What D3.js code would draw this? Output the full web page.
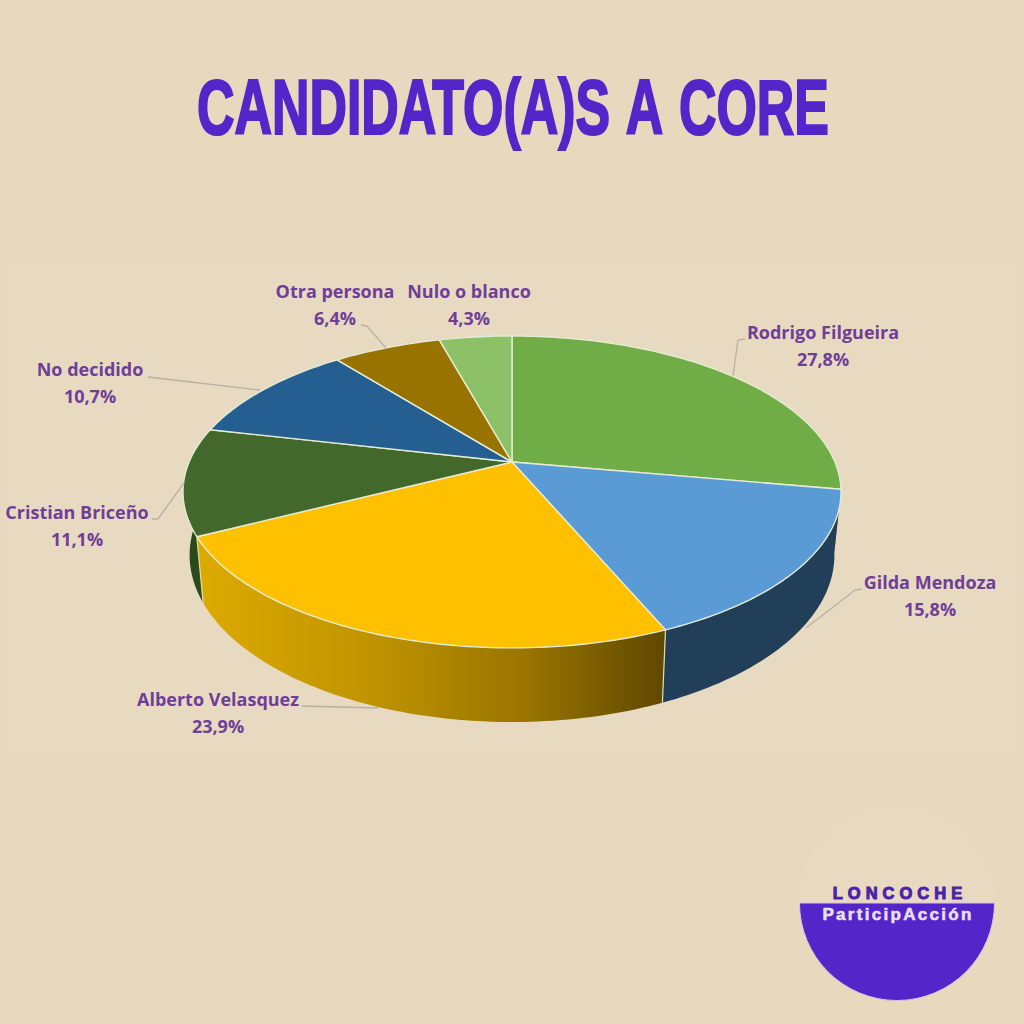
<!DOCTYPE html>
<html>
<head>
<meta charset="utf-8">
<script src="https://cdn.jsdelivr.net/npm/d3@7"></script>
<style>
  html, body { margin: 0; padding: 0; background: #e7d8be; }
  svg { display: block; }
  .label { font-family: "Open Sans", sans-serif; font-weight: 700; font-size: 18px; fill: #6f3f98; text-anchor: middle; }
  .leader { fill: none; stroke: #b5b1a6; stroke-width: 1.3; }
</style>
</head>
<body>
<div id="chart"></div>
<script>
// values
const categories = ['Rodrigo Filgueira', 'Gilda Mendoza', 'Alberto Velasquez', 'Cristian Briceño', 'No decidido', 'Otra persona', 'Nulo o blanco'];
const shares = [27.8, 15.8, 23.9, 11.1, 10.7, 6.4, 4.3];
const topColors = ['#70ad47', '#5b9bd5', '#ffc000', '#43682b', '#255e91', '#997300', '#8cc168'];
const sideColors = ['#44692b', '#213f58', 'url(#albertoSide)', '#2a4a1c', '#173a59', '#5e4700', '#557540'];

// label centre [x, y of first line] and leader line for each slice
const labelPos = [[823, 339], [930, 589], [218, 706], [77, 519], [90, 376], [335, 298], [469, 298]];
const leaders = [
  [[745, 339], [738, 340], [733, 376]],
  [[862, 589], [855, 590], [806, 628]],
  [[302, 706], [378, 708]],
  [[152, 519], [158, 519], [184, 483]],
  [[148, 377], [260, 390]],
  [[361, 325], [367, 326], [386, 348]]
];

const width = 1024, height = 1024;

// the tilted disc: a circle seen in perspective
const persp = 0.192;
const topDisc = { cx: 512, cy: 462, rx: 322.9, ry: 150.2 };
const baseDisc = { cx: 512, cy: 523, rx: 316.4, ry: 160.8 };

function project(disc, angle) {
  const u = Math.sin(angle), v = Math.cos(angle);
  const w = 1 + persp * v;
  return [disc.cx + disc.rx * u / w, disc.cy - disc.ry * v / w];
}

function arcPoints(disc, a0, a1) {
  const n = Math.max(2, Math.ceil((a1 - a0) / 0.02));
  return d3.range(n + 1).map(i => project(disc, a0 + (a1 - a0) * i / n));
}

const svg = d3.select('#chart').append('svg')
  .attr('width', width)
  .attr('height', height);

const grad = svg.append('defs').append('linearGradient')
  .attr('id', 'albertoSide')
  .attr('gradientUnits', 'userSpaceOnUse')
  .attr('x1', 198).attr('x2', 664).attr('y1', 0).attr('y2', 0);
[[0, '#dcaa00'], [0.35, '#c29500'], [0.7, '#9a7500'], [1, '#5f4800']].forEach(s => {
  grad.append('stop').attr('offset', s[0]).attr('stop-color', s[1]);
});

svg.append('rect')
  .attr('width', width).attr('height', height)
  .attr('fill', '#e7d8be');

// faint lighter chart area behind the pie
svg.append('rect')
  .attr('x', 2).attr('y', 265).attr('width', 1020).attr('height', 492)
  .attr('fill', '#e8dac1');

// title
const title = svg.append('text')
  .attr('text-anchor', 'middle')
  .attr('font-family', '"Liberation Sans Narrow", "Liberation Sans", sans-serif')
  .attr('font-weight', 700)
  .attr('font-size', 78)
  .attr('word-spacing', 5)
  .attr('fill', '#5425c8')
  .attr('stroke', '#5425c8')
  .attr('stroke-width', 2.2)
  .attr('stroke-linejoin', 'miter')
  .text('CANDIDATO(A)S A CORE');
const titleW = title.node().getComputedTextLength();
title.attr('transform', `translate(513,134) scale(${632 / titleW},1)`);

// pie
const pie = d3.pie().sort(null).value(d => d)(shares);
const line = d3.line();

const sides = svg.append('g');
pie.forEach((d, i) => {
  const top = arcPoints(topDisc, d.startAngle, d.endAngle);
  const base = arcPoints(baseDisc, d.startAngle, d.endAngle).reverse();
  sides.append('path')
    .attr('d', line(top.concat(base)) + 'Z')
    .attr('fill', sideColors[i]);
});

// light seams down the front wall
[pie[1].endAngle, pie[2].endAngle].forEach(a => {
  sides.append('path')
    .attr('d', line([project(topDisc, a), project(baseDisc, a)]))
    .attr('stroke', '#e6dfa8')
    .attr('stroke-width', 1.2)
    .attr('fill', 'none');
});

svg.append('g').selectAll('path')
  .data(pie)
  .join('path')
  .attr('d', d => line([[topDisc.cx, topDisc.cy]].concat(arcPoints(topDisc, d.startAngle, d.endAngle))) + 'Z')
  .attr('fill', (d, i) => topColors[i])
  .attr('stroke', '#e4ecd6')
  .attr('stroke-width', 1.4)
  .attr('stroke-linejoin', 'round');

// leader lines
svg.append('g').selectAll('path')
  .data(leaders)
  .join('path')
  .attr('class', 'leader')
  .attr('d', d => line(d));

// labels
const labels = svg.append('g').selectAll('text')
  .data(categories)
  .join('text')
  .attr('class', 'label')
  .attr('transform', (d, i) => `translate(${labelPos[i][0]},${labelPos[i][1]})`);
labels.append('tspan').attr('x', 0).attr('y', 0).text(d => d);
labels.append('tspan').attr('x', 0).attr('y', 27).text((d, i) => d3.format('.1f')(shares[i]).replace('.', ',') + '%');

// logo
const logo = svg.append('g');
logo.append('circle')
  .attr('cx', 897).attr('cy', 903).attr('r', 98)
  .attr('fill', '#e8dac1');
logo.append('path')
  .attr('d', d3.arc()({ innerRadius: 0, outerRadius: 97.5, startAngle: Math.PI / 2, endAngle: Math.PI * 1.5 }))
  .attr('transform', 'translate(897,903)')
  .attr('fill', '#5425c8')
  .attr('stroke', '#d9c4e0')
  .attr('stroke-width', 1);
logo.append('text')
  .attr('x', 900).attr('y', 899)
  .attr('text-anchor', 'middle')
  .attr('font-family', '"Liberation Sans", sans-serif')
  .attr('font-weight', 700)
  .attr('font-size', 16.5)
  .attr('letter-spacing', 5)
  .attr('fill', '#4a23a8')
  .attr('stroke', '#4a23a8')
  .attr('stroke-width', 1)
  .text('LONCOCHE');
logo.append('text')
  .attr('x', 898).attr('y', 920)
  .attr('text-anchor', 'middle')
  .attr('font-family', '"Liberation Sans", sans-serif')
  .attr('font-weight', 700)
  .attr('font-size', 17)
  .attr('letter-spacing', 2.3)
  .attr('fill', '#eadff0')
  .attr('stroke', '#eadff0')
  .attr('stroke-width', 0.6)
  .text('ParticipAcción');
</script>
</body>
</html>
